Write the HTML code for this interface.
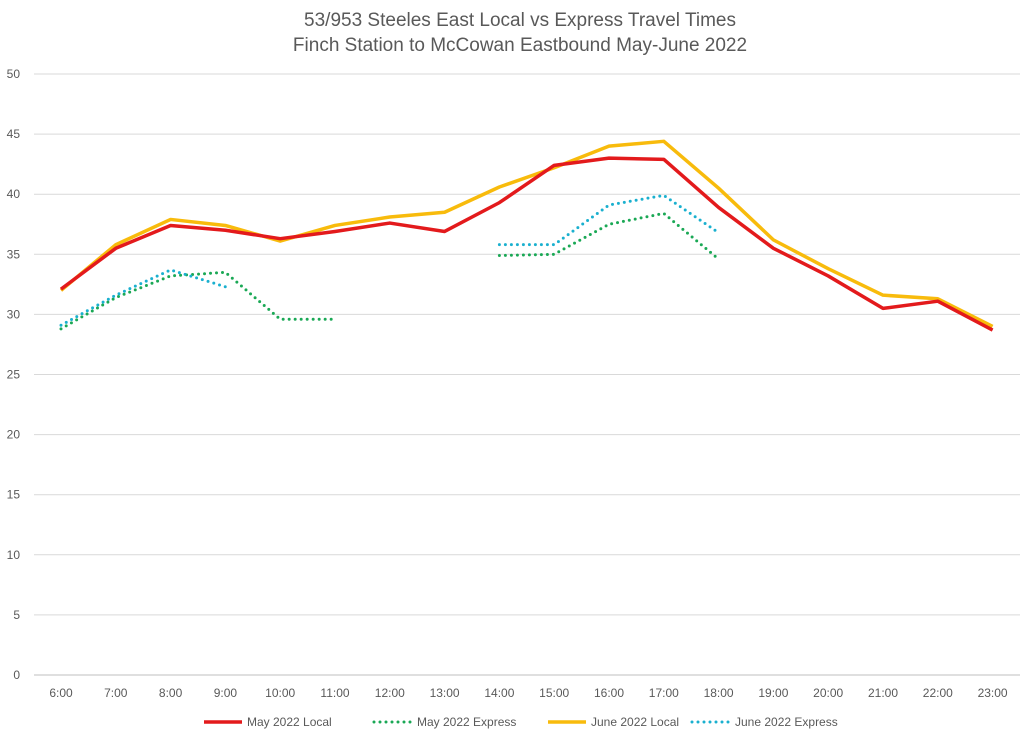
<!DOCTYPE html>
<html><head><meta charset="utf-8"><style>
body{margin:0;background:#fff;font-family:"Liberation Sans",sans-serif;}
svg text{font-family:"Liberation Sans",sans-serif;fill:#595959;}
</style></head><body>
<svg id="chart" width="1024" height="742">
<text x="520" y="26" text-anchor="middle" font-size="19">53/953 Steeles East Local vs Express Travel Times</text>
<text x="520" y="51" text-anchor="middle" font-size="19">Finch Station to McCowan Eastbound May-June 2022</text>
<g id="grid"></g><g id="axes"></g><g id="series"></g><g id="legend"></g>
</svg>
<script>
const categories=["6:00","7:00","8:00","9:00","10:00","11:00","12:00","13:00","14:00","15:00","16:00","17:00","18:00","19:00","20:00","21:00","22:00","23:00"];
const yTicks=[0,5,10,15,20,25,30,35,40,45,50];
const mayLocal=[32.1,35.5,37.4,37.0,36.3,36.9,37.6,36.9,39.3,42.4,43.0,42.9,38.9,35.5,33.2,30.5,31.1,28.7];
const juneLocal=[32.0,35.8,37.9,37.4,36.1,37.4,38.1,38.5,40.6,42.2,44.0,44.4,40.5,36.2,33.8,31.6,31.3,29.0];
const mayExpress=[28.8,31.4,33.2,33.5,29.6,29.6,null,null,34.9,35.0,37.5,38.4,34.6,null,null,null,null,null];
const juneExpress=[29.1,31.6,33.7,32.3,null,null,null,null,35.8,35.8,39.1,39.9,36.8,null,null,null,null,null];
const NS="http://www.w3.org/2000/svg";
const x0=61,dx=54.8,yBase=675,yTop=74;
const X=i=>x0+i*dx;
const Y=v=>yBase-(v/50)*(yBase-yTop);
function mk(t,a,p){const e=document.createElementNS(NS,t);for(const k in a)e.setAttribute(k,a[k]);p.appendChild(e);return e;}
const grid=document.getElementById('grid'),axes=document.getElementById('axes');
yTicks.forEach(v=>{
 const l=mk('line',{x1:34,x2:1020,y1:Y(v),y2:Y(v),stroke:v===0?'#bfbfbf':'#d9d9d9','stroke-width':1},grid);
 
 
 const t=mk('text',{x:20,y:Y(v)+4,'text-anchor':'end','font-size':12},axes);t.textContent=v;
 
 
});
categories.forEach((c,i)=>{
 const t=mk('text',{x:X(i),y:697,'text-anchor':'middle','font-size':12},axes);t.textContent=c;
 
 
});
const ser=document.getElementById('series');
function draw(data,color,dash,name){
 let segs=[],cur=[];
 data.forEach((v,i)=>{if(v==null){if(cur.length)segs.push(cur);cur=[];}else cur.push(X(i)+','+Y(v));});
 if(cur.length)segs.push(cur);
 segs.forEach((s,k)=>{
  const a={points:s.join(' '),fill:'none',stroke:color,'stroke-width':3.5,'stroke-linejoin':'round'};
  if(dash){a['stroke-dasharray']='0 6';a['stroke-linecap']='round';a['stroke-width']=3;}
  const p=mk('polyline',a,ser);
  
  
 });
}
draw(juneLocal,'#f8bb0c',false,'june-2022-local');
draw(mayLocal,'#e31a1c',false,'may-2022-local');
draw(mayExpress,'#1aa855',true,'may-2022-express');
draw(juneExpress,'#1ab0cf',true,'june-2022-express');
const leg=document.getElementById('legend');
[["May 2022 Local","#e31a1c",false,204],["May 2022 Express","#1aa855",true,374],["June 2022 Local","#f8bb0c",false,548],["June 2022 Express","#1ab0cf",true,692]].forEach(([n,c,d,x])=>{
 const g=mk('g',{},leg);
 
 
 const a={x1:x,x2:x+38,y1:722,y2:722,stroke:c,'stroke-width':3.5};
 if(d){a['stroke-dasharray']='0 6';a['stroke-linecap']='round';a['stroke-width']=3;}
 mk('line',a,g);
 const t=mk('text',{x:x+43,y:726,'font-size':12},g);t.textContent=n;
});
</script>
</body></html>
